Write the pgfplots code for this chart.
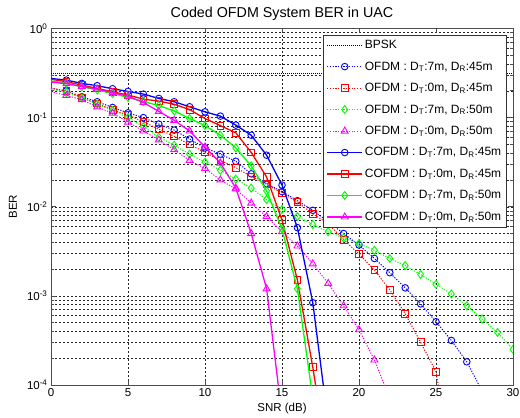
\documentclass[border=0pt]{standalone}
\usepackage{fontspec}
\setmainfont{Liberation Sans}
\usepackage{pgfplots}
\pgfplotsset{compat=1.18}

\definecolor{mblue}{rgb}{0,0,1}
\definecolor{mred}{rgb}{1,0,0}
\definecolor{mgreen}{rgb}{0,1,0}
\definecolor{mmag}{rgb}{1,0,1}

\pgfplotsset{
  ofdm/.style={line width=1pt, dash pattern=on 1.2pt off 1.5pt,
    mark options={solid, line width=0.9pt}, mark repeat=1, mark phase=2},
  cofdm/.style={line width=1.3pt, solid,
    mark options={solid, line width=0.9pt}, mark repeat=1, mark phase=2},
}

\begin{document}
\begin{tikzpicture}
\begin{axis}[
scale only axis,
width=462pt, height=356.5pt,
xmin=0, xmax=30,
ymin=1e-4, ymax=1,
ymode=log,
xtick={0,5,...,30},
ytick={1e-4,1e-3,1e-2,1e-1,1},
yticklabels={10\textsuperscript{-4},10\textsuperscript{-3},10\textsuperscript{-2},10\textsuperscript{-1},10\textsuperscript{0}},
/pgf/number format/assume math mode=true,
xmajorgrids, ymajorgrids, yminorgrids,
major grid style={black!85, line width=0.5pt, dash pattern=on 2pt off 2pt},
minor grid style={black!85, line width=0.5pt, dash pattern=on 2pt off 2pt},
tick align=inside,
major tick length=5pt, minor tick length=3pt,
axis line style={black!70, line width=0.8pt},
every tick/.style={black!70, line width=0.6pt},
tick label style={font=\fontsize{11.5}{12}\selectfont},
title={Coded OFDM System BER in UAC},
title style={font=\fontsize{14.3}{16}\selectfont, at={(0.5,1)}, anchor=center, yshift=8.5pt},
xlabel={SNR (dB)},
xlabel style={font=\fontsize{11.5}{13}\selectfont, at={(0.5,0)}, anchor=center, yshift=-24pt},
ylabel={BER},
ylabel style={font=\fontsize{11.5}{13}\selectfont, at={(0,0.5)}, anchor=center, yshift=38pt},
clip marker paths=true,
legend cell align=left,
legend image code/.code={\draw[#1, mark repeat=2, mark phase=2] plot coordinates {(0pt,0pt) (17.5pt,0pt) (35pt,0pt)};},
legend style={at={(0.986,0.982)}, anchor=north east, draw=black!80, line width=0.6pt,
  font=\fontsize{12}{13}\selectfont, row sep=7.6pt, inner sep=3pt},
]

% theory reference
\addplot[black, line width=1pt, dash pattern=on 1pt off 1pt] coordinates {(0,0.31) (30,0.31)};
\addlegendentry{BPSK}

% uncoded OFDM
\addplot[mblue, ofdm, mark=o, mark size=3.3pt] coordinates {
(0,0.2138) (1,0.1995) (2,0.1714) (3,0.1507) (4,0.1300) (5,0.1132) (6,0.1000)
(7,0.0847) (8,0.0724) (9,0.0575) (10,0.0457) (11,0.0389) (12,0.0324) (13,0.0234)
(14,0.0182) (15,0.0148) (16,0.0117) (17,0.00912) (18,0.00676) (19,0.00501)
(20,0.00372) (21,0.00263) (22,0.00182) (23,0.00123) (24,0.000813) (25,0.000513)
(26,0.000316) (27,0.000182) (28,0.000085)
};
\addlegendentry{OFDM : D\textsubscript{T}:7m, D\textsubscript{R}:45m}

\addplot[mred, ofdm, mark=square, mark size=3.4pt] coordinates {
(0,0.2138) (1,0.1995) (2,0.1660) (3,0.1445) (4,0.1213) (5,0.1072) (6,0.0897)
(7,0.0741) (8,0.0617) (9,0.0501) (10,0.0407) (11,0.0331) (12,0.0275) (13,0.0219)
(14,0.0178) (15,0.0143) (16,0.0113) (17,0.00832) (18,0.00646) (19,0.00427)
(20,0.00295) (21,0.00195) (22,0.00117) (23,0.000631) (24,0.000302) (25,0.000141)
(26,0.0000126)
};
\addlegendentry{OFDM : D\textsubscript{T}:0m, D\textsubscript{R}:45m}

\addplot[mgreen, ofdm, mark=diamond, mark size=4pt] coordinates {
(0,0.2089) (1,0.1905) (2,0.1660) (3,0.1413) (4,0.1202) (5,0.1000) (6,0.0794)
(7,0.0603) (8,0.0490) (9,0.0389) (10,0.0316) (11,0.0257) (12,0.0204) (13,0.0162)
(14,0.0120) (15,0.00933) (16,0.00776) (17,0.00631) (18,0.00525) (19,0.00447)
(20,0.00389) (21,0.00324) (22,0.00263) (23,0.00219) (24,0.00174) (25,0.00135)
(26,0.00105) (27,0.000776) (28,0.000550) (29,0.000389) (30,0.000251)
};
\addlegendentry{OFDM : D\textsubscript{T}:7m, D\textsubscript{R}:50m}

\addplot[mmag, ofdm, mark=triangle, mark size=4pt] coordinates {
(0,0.1950) (1,0.1778) (2,0.1585) (3,0.1318) (4,0.1122) (5,0.0891) (6,0.0708)
(7,0.0562) (8,0.0437) (9,0.0331) (10,0.0269) (11,0.0200) (12,0.0158) (13,0.0110)
(14,0.00776) (15,0.00525) (16,0.00363) (17,0.00229) (18,0.00138) (19,0.000776)
(20,0.000417) (21,0.000191) (22,0.000071)
};
\addlegendentry{OFDM : D\textsubscript{T}:0m, D\textsubscript{R}:50m}

% coded OFDM
\addplot[mblue, cofdm, mark=o, mark size=3.3pt] coordinates {
(0,0.2754) (1,0.2636) (2,0.2421) (3,0.2280) (4,0.2109) (5,0.1968) (6,0.1837)
(7,0.1641) (8,0.1507) (9,0.1324) (10,0.1161) (11,0.1040) (12,0.0824) (13,0.0635)
(14,0.0379) (15,0.0175) (16,0.00583) (17,0.000838) (18,0.000037)
};
\addlegendentry{COFDM : D\textsubscript{T}:7m, D\textsubscript{R}:45m}

\addplot[mred, cofdm, mark=square, mark size=3.4pt] coordinates {
(0,0.2692) (1,0.2529) (2,0.2317) (3,0.2128) (4,0.1950) (5,0.1791) (6,0.1614)
(7,0.1531) (8,0.1413) (9,0.1230) (10,0.0977) (11,0.0813) (12,0.0676) (13,0.0407)
(14,0.0216) (15,0.00708) (16,0.00151) (17,0.000158) (18,0.0000126)
};
\addlegendentry{COFDM : D\textsubscript{T}:0m, D\textsubscript{R}:45m}

\addplot[mgreen, cofdm, mark=diamond, mark size=4pt] coordinates {
(0,0.2570) (1,0.2421) (2,0.2218) (3,0.2042) (4,0.1862) (5,0.1687) (6,0.1514)
(7,0.1365) (8,0.1189) (9,0.0977) (10,0.0813) (11,0.0635) (12,0.0457) (13,0.0288)
(14,0.0151) (15,0.00562) (16,0.00120) (17,0.000071)
};
\addlegendentry{COFDM : D\textsubscript{T}:7m, D\textsubscript{R}:50m}

\addplot[mmag, cofdm, mark=triangle, mark size=4pt] coordinates {
(0,0.2512) (1,0.2399) (2,0.2239) (3,0.2089) (4,0.1905) (5,0.1738) (6,0.1479)
(7,0.1175) (8,0.0933) (9,0.0708) (10,0.0468) (11,0.0309) (12,0.0162) (13,0.00501)
(14,0.00120) (15,0.000045)
};
\addlegendentry{COFDM : D\textsubscript{T}:0m, D\textsubscript{R}:50m}

\end{axis}
\pgfresetboundingbox
\path ([shift={(-51pt,-33pt)}]current axis.south west) rectangle ([shift={(7pt,28.5pt)}]current axis.north east);
\end{tikzpicture}
\end{document}
